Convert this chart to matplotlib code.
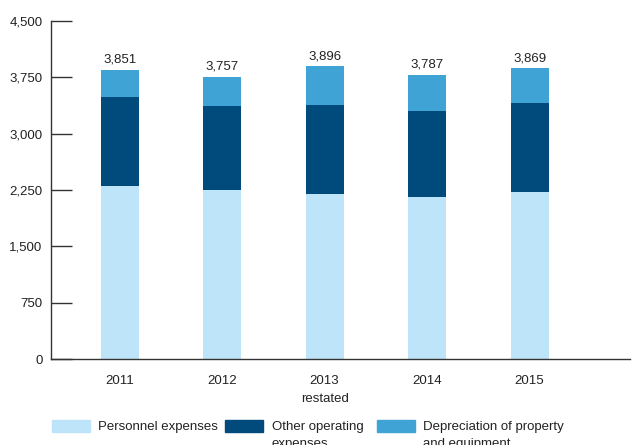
import matplotlib
matplotlib.use("Agg")
import matplotlib.pyplot as plt
from matplotlib.patches import Rectangle

years = ["2011", "2012", "2013\nrestated", "2014", "2015"]
personnel = [2300, 2255, 2202, 2162, 2229]
other_operating = [1186, 1114, 1181, 1141, 1180]
totals = [3851, 3757, 3896, 3787, 3869]
depreciation = [t - p - o for t, p, o in zip(totals, personnel, other_operating)]
total_labels = ["3,851", "3,757", "3,896", "3,787", "3,869"]
y_ticks = [0, 750, 1500, 2250, 3000, 3750, 4500]

c_light = "#bde4f8"
c_dark = "#004a7c"
c_mid = "#3fa3d6"
c_axis = "#333333"

plt.rcParams["font.family"] = ["Liberation Sans", "DejaVu Sans"]

W, H = 632, 445
fig = plt.figure(figsize=(W / 100, H / 100), dpi=100)
ax = fig.add_axes([51 / W, 1 - 359 / H, (630 - 51) / W, (359 - 21) / H])

x = list(range(len(years)))
width = 0.37
ax.bar(x, personnel, width, color=c_light)
ax.bar(x, other_operating, width, bottom=personnel, color=c_dark)
bottoms = [p + o for p, o in zip(personnel, other_operating)]
ax.bar(x, depreciation, width, bottom=bottoms, color=c_mid)

for xi, t, lab in zip(x, totals, total_labels):
    ax.annotate(lab, (xi, t), xytext=(0, 3), textcoords="offset points",
                ha="center", va="bottom", fontsize=9.5, color="#222222")

ax.set_xlim(-0.67, 4.98)
ax.set_ylim(0, 4500)
ax.set_yticks(y_ticks)
ax.set_yticklabels([f"{v:,}" for v in y_ticks])
ax.set_xticks(x)
ax.set_xticklabels(years, linespacing=1.65)
ax.tick_params(axis="y", direction="in", length=15, width=1, color=c_axis,
               labelsize=9.5, pad=6, labelcolor="#222222")
ax.tick_params(axis="x", length=0, labelsize=9.5, pad=11.5, labelcolor="#222222")
for side in ["top", "right"]:
    ax.spines[side].set_visible(False)
for side in ["left", "bottom"]:
    ax.spines[side].set_color(c_axis)
    ax.spines[side].set_linewidth(1)

legend_items = [
    (52, c_light, 98, "Personnel expenses"),
    (225, c_dark, 272, "Other operating\nexpenses"),
    (377, c_mid, 423, "Depreciation of property\nand equipment"),
]
for px, col, tx, txt in legend_items:
    fig.patches.append(Rectangle((px / W, 1 - 432 / H), 38 / W, 12 / H,
                                 transform=fig.transFigure, color=col))
    fig.text(tx / W, 1 - 421 / H, txt, ha="left", va="top", fontsize=9.5,
             color="#222222", linespacing=1.5)

fig.savefig("out.png", dpi=100)
